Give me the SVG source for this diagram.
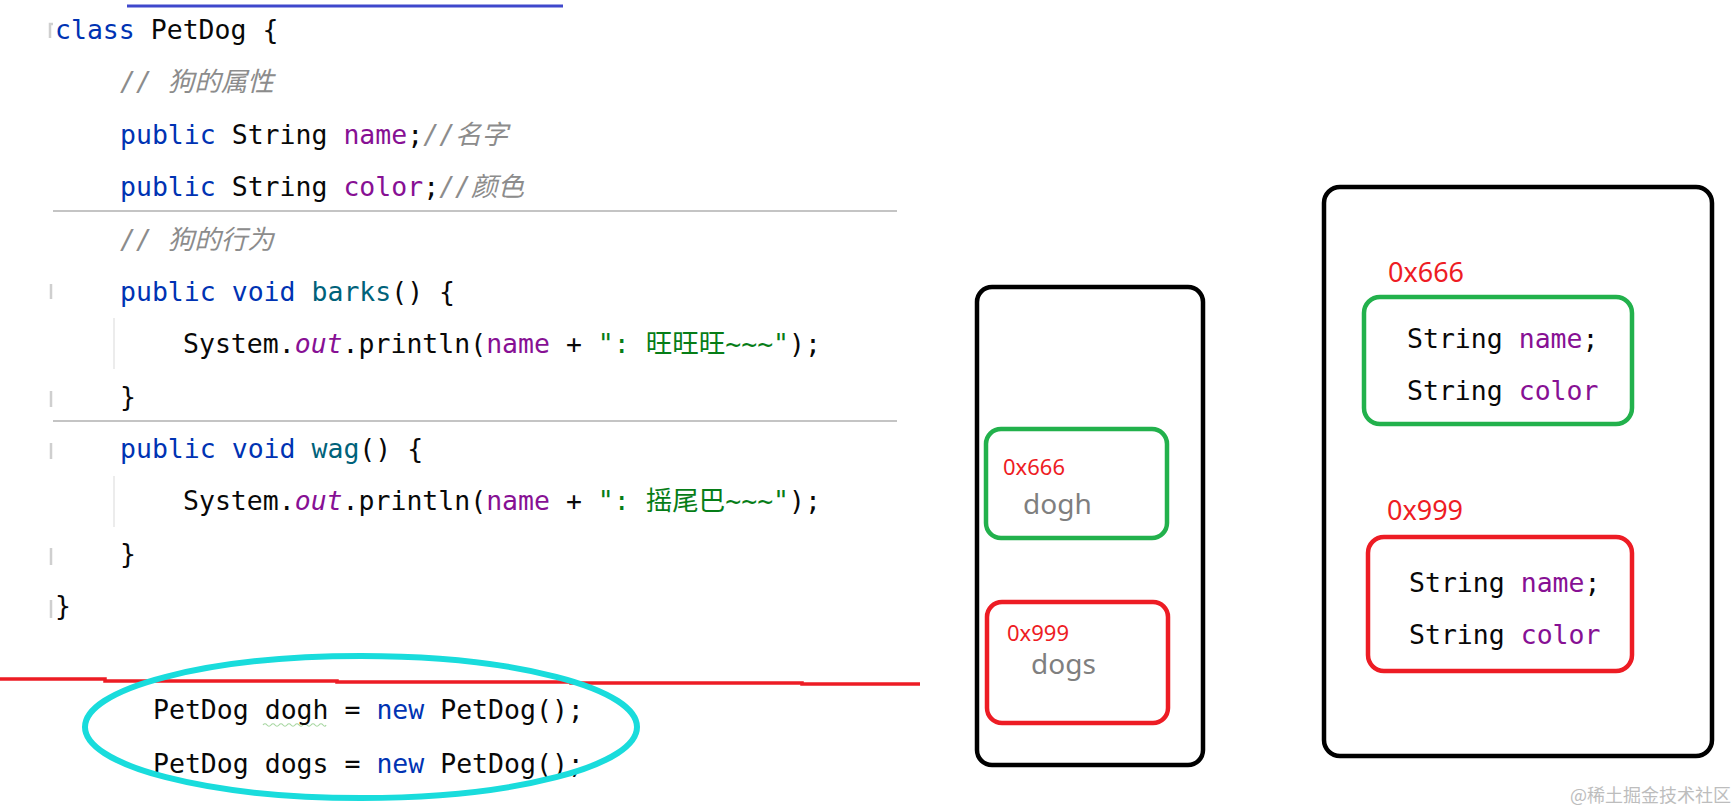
<svg xmlns="http://www.w3.org/2000/svg" width="1736" height="812" viewBox="0 0 1736 812">
<style>
.code{font-family:"DejaVu Sans Mono","Liberation Mono","Noto Sans CJK SC",monospace;font-size:26.5px;fill:#080808}
.kw{fill:#0033b3}
.fld{fill:#871094}
.fn{fill:#00627a}
.str{fill:#067d17}
.cmt{fill:#8c8c8c;font-style:italic}
.it{font-style:italic}
.addr{font-family:"Noto Sans","Open Sans","Noto Sans CJK SC",sans-serif;fill:#ee1c24}
.var{font-family:"Noto Sans","Open Sans","Noto Sans CJK SC",sans-serif;fill:#7f7f7f;font-size:28px}
.box{fill:none;stroke:#000;stroke-width:4.5}
.gbox{fill:none;stroke:#22b14c;stroke-width:4.5}
.rbox{fill:none;stroke:#ed1c24;stroke-width:4.5}
.sep{stroke:#c4c4c4;stroke-width:2}
.guide{stroke:#e6e6e6;stroke-width:1.5}
.fold{fill:none;stroke:#cfcfcf;stroke-width:2.5}
</style>
<rect width="1736" height="812" fill="#fff"/>

<g id="code">
  <line x1="127" y1="6" x2="563" y2="6" stroke="#3f48cc" stroke-width="3"/>
  <path class="fold" d="M53 24 L50 24 L50 38"/>
  <path class="fold" d="M51 284 L51 299"/>
  <path class="fold" d="M51 391 L51 407"/>
  <path class="fold" d="M51 443 L51 459"/>
  <path class="fold" d="M51 548 L51 565"/>
  <path class="fold" d="M51 600 L51 618"/>
  <line class="sep" x1="53" y1="211" x2="897" y2="211"/>
  <line class="sep" x1="53" y1="421" x2="897" y2="421"/>
  <line class="guide" x1="114" y1="318" x2="114" y2="369"/>
  <line class="guide" x1="114" y1="476" x2="114" y2="527"/>
  <text class="code" x="55" y="39"><tspan class="kw">class</tspan> PetDog {</text>
  <text class="code" x="120" y="91"><tspan class="cmt">// 狗的属性</tspan></text>
  <text class="code" x="120" y="144"><tspan class="kw">public</tspan> String <tspan class="fld">name</tspan>;<tspan class="cmt">//名字</tspan></text>
  <text class="code" x="120" y="196"><tspan class="kw">public</tspan> String <tspan class="fld">color</tspan>;<tspan class="cmt">//颜色</tspan></text>
  <text class="code" x="120" y="249"><tspan class="cmt">// 狗的行为</tspan></text>
  <text class="code" x="120" y="301"><tspan class="kw">public void</tspan> <tspan class="fn">barks</tspan>() {</text>
  <text class="code" x="183" y="353">System.<tspan class="fld it">out</tspan>.println(<tspan class="fld">name</tspan> + <tspan class="str">": 旺旺旺~~~"</tspan>);</text>
  <text class="code" x="120" y="406">}</text>
  <text class="code" x="120" y="458"><tspan class="kw">public void</tspan> <tspan class="fn">wag</tspan>() {</text>
  <text class="code" x="183" y="510">System.<tspan class="fld it">out</tspan>.println(<tspan class="fld">name</tspan> + <tspan class="str">": 摇尾巴~~~"</tspan>);</text>
  <text class="code" x="120" y="563">}</text>
  <text class="code" x="55" y="615">}</text>
</g>

<g id="declarations">
  <path d="M263 725 q2 -2.5 4 0 t4 0 t4 0 t4 0 t4 0 t4 0 t4 0 t4 0 t4 0 t4 0 t4 0 t4 0 t4 0 t4 0 t4 0 t3 0" fill="none" stroke="#a6d6a0" stroke-width="1.2"/>
  <text class="code" x="153" y="719">PetDog dogh = <tspan class="kw">new</tspan> PetDog();</text>
  <text class="code" x="153" y="773">PetDog dogs = <tspan class="kw">new</tspan> PetDog();</text>
</g>

<g id="annotations">
  <polyline points="0,679 105,679 105,681 337,681 337,682 571,682 571,683 802,683 802,684 920,684" fill="none" stroke="#ed1c24" stroke-width="3.5"/>
  <ellipse cx="361" cy="727" rx="276" ry="71" fill="none" stroke="#19dcdc" stroke-width="6"/>
</g>

<g id="connectors"></g>

<g id="stack">
  <rect class="box" x="977" y="287" width="226" height="478" rx="15"/>
</g>
<g id="ref-dogh">
  <rect class="gbox" x="986" y="429" width="181" height="109" rx="15"/>
  <text class="addr" x="1003" y="475" font-size="22">0x666</text>
  <text class="var" x="1023" y="514">dogh</text>
</g>
<g id="ref-dogs">
  <rect class="rbox" x="987" y="602" width="181" height="121" rx="15"/>
  <text class="addr" x="1007" y="641" font-size="22">0x999</text>
  <text class="var" x="1031" y="674">dogs</text>
</g>

<g id="heap">
  <rect class="box" x="1324" y="187" width="388" height="569" rx="16"/>
</g>
<g id="obj-666">
  <text class="addr" x="1388" y="282" font-size="27">0x666</text>
  <rect class="gbox" x="1364" y="297" width="268" height="127" rx="16"/>
  <text class="code" x="1407" y="348">String <tspan class="fld">name</tspan>;</text>
  <text class="code" x="1407" y="400">String <tspan class="fld">color</tspan></text>
</g>
<g id="obj-999">
  <text class="addr" x="1387" y="520" font-size="27">0x999</text>
  <rect class="rbox" x="1368" y="537" width="264" height="134" rx="16"/>
  <text class="code" x="1409" y="592">String <tspan class="fld">name</tspan>;</text>
  <text class="code" x="1409" y="644">String <tspan class="fld">color</tspan></text>
</g>

<text x="1570" y="802" font-family="Noto Sans CJK SC,sans-serif" font-size="18" fill="#bdbdbd">@稀土掘金技术社区</text>
</svg>
